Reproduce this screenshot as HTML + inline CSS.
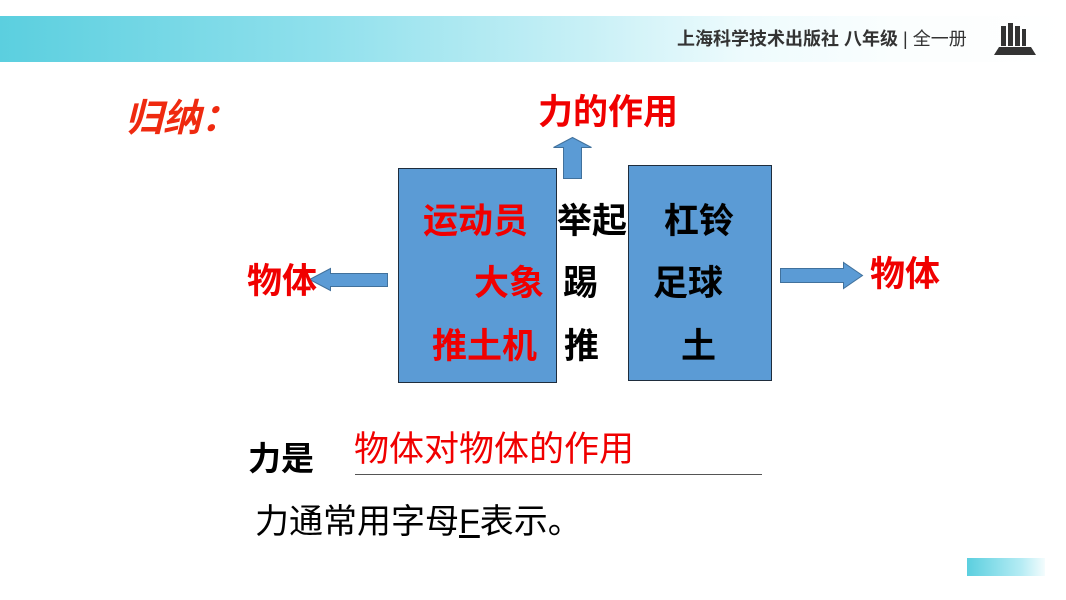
<!DOCTYPE html>
<html><head><meta charset="utf-8"><style>
body{margin:0;width:1066px;height:600px;background:#fff;position:relative;overflow:hidden;font-family:"Liberation Sans","Noto Sans CJK SC",sans-serif}
.a{position:absolute;white-space:nowrap;line-height:1}
.r{color:#f00000}.b{font-weight:bold}
</style></head><body>
<div style="position:absolute;left:0;top:16px;width:1066px;height:46px;background:linear-gradient(90deg,#5bcfdf 0%,#8fe0ec 30%,#c8f0f6 55%,#eefbfd 70%,#fbfefe 85%,#fff 100%)"></div>
<div class="a b" style="left:677px;top:30px;font-size:18px;color:#333">上海科学技术出版社 八年级 <span style="font-weight:normal">| 全一册</span></div>
<svg style="position:absolute;left:992px;top:22px" width="48" height="34"><rect x="9" y="4" width="5" height="20" fill="#333"/><rect x="16" y="1" width="5" height="23" fill="#333"/><rect x="23" y="4" width="5" height="20" fill="#333"/><rect x="30" y="7" width="4" height="17" fill="#333"/><path d="M2 33 L7 25 L39 25 L44 33Z" fill="#333"/></svg>
<div class="a b r" style="left:125px;top:100px;font-size:38px;font-style:italic;color:#ef2a10">归纳：</div>
<div class="a b r" style="left:538px;top:95px;font-size:35px">力的作用</div>
<svg style="position:absolute;left:0;top:0" width="1066" height="600">
<rect x="398.5" y="168.5" width="158" height="214" fill="#5b9bd5" stroke="#1f2d3d"/>
<rect x="628.5" y="165.5" width="143" height="215" fill="#5b9bd5" stroke="#1f2d3d"/>
<path d="M563.5 178.5 V147.5 H553.5 L572.5 137.5 L591.5 147.5 H581.5 V178.5Z" fill="#5b9bd5" stroke="#41719c"/>
<path d="M387.5 273.5 H330.5 V268.5 L309.5 279.5 L330.5 290.5 V286.5 H387.5Z" fill="#5b9bd5" stroke="#41719c"/>
<path d="M780.5 268.5 H843.5 V262.5 L862.5 275.5 L843.5 288.5 V282.5 H780.5Z" fill="#5b9bd5" stroke="#41719c"/>
<line x1="355" y1="474.5" x2="762" y2="474.5" stroke="#555" stroke-width="1"/>
</svg>
<div class="a b r" style="left:423px;top:204px;font-size:35px">运动员</div>
<div class="a b r" style="left:474px;top:266px;font-size:35px">大象</div>
<div class="a b r" style="left:432px;top:329px;font-size:35px">推土机</div>
<div class="a b" style="left:557px;top:204px;font-size:35px">举起</div>
<div class="a b" style="left:563px;top:266px;font-size:35px">踢</div>
<div class="a b" style="left:564px;top:329px;font-size:35px">推</div>
<div class="a b" style="left:664px;top:204px;font-size:35px">杠铃</div>
<div class="a b" style="left:653px;top:266px;font-size:35px">足球</div>
<div class="a b" style="left:681px;top:329px;font-size:35px">土</div>
<div class="a b r" style="left:247px;top:264px;font-size:35px">物体</div>
<div class="a b r" style="left:870px;top:257px;font-size:35px">物体</div>
<div class="a b" style="left:248px;top:442px;font-size:33px">力是</div>
<div class="a r" style="left:354px;top:432px;font-size:35px">物体对物体的作用</div>
<div class="a" style="left:255px;top:505px;font-size:34px">力通常用字母<u>F</u>表示。</div>
<div style="position:absolute;left:967px;top:558px;width:78px;height:18px;background:linear-gradient(90deg,#5bcfdf,#b6ecf4 70%,#f4fcfd)"></div>
</body></html>
